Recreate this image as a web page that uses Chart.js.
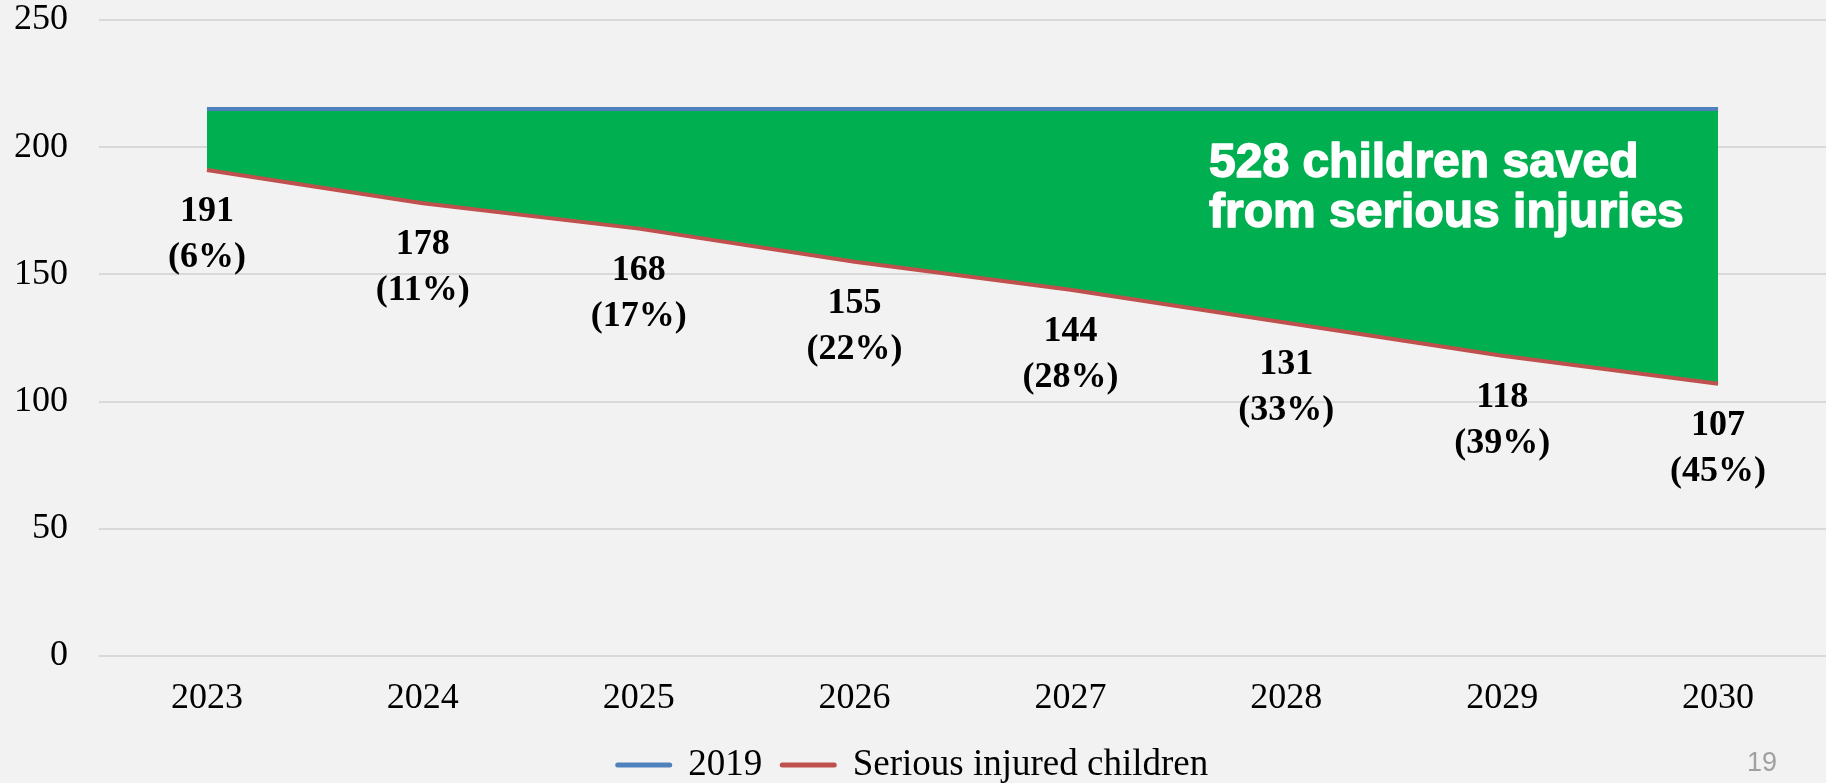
<!DOCTYPE html>
<html>
<head>
<meta charset="utf-8">
<script src="https://cdn.jsdelivr.net/npm/chart.js@4.4.1/dist/chart.umd.min.js"></script>
<style>
    html, body { margin: 0; padding: 0; background: #F2F2F2; }
    #wrap { width: 1826px; height: 783px; position: relative; }
</style>
</head>
<body>
<div id="wrap"><canvas id="chart"></canvas></div>
<script>
// chart data
const years = ['2023', '2024', '2025', '2026', '2027', '2028', '2029', '2030'];
const level2019 = [215, 215, 215, 215, 215, 215, 215, 215];
const injured = [191, 178, 168, 155, 144, 131, 118, 107];
const reduction = [6, 11, 17, 22, 28, 33, 39, 45];
const seriesNames = ['2019', 'Serious injured children'];
const noteLines = ['528 children saved', 'from serious injuries'];
const pageNumber = '19';

const BLUE = '#4F81BD';
const RED = '#C0504D';
const GREEN = '#00B050';

// value + percentage under every red point, plus the note text
const labelsPlugin = {
    id: 'labels',
    afterDatasetsDraw(chart) {
        const ctx = chart.ctx;
        const meta = chart.getDatasetMeta(1);
        ctx.save();
        ctx.fillStyle = '#000';
        ctx.font = 'bold 36px "Liberation Serif"';
        ctx.textAlign = 'center';
        ctx.textBaseline = 'middle';
        meta.data.forEach((pt, i) => {
            ctx.fillText(String(injured[i]), pt.x, pt.y + 42);
            ctx.fillText('(' + reduction[i] + '%)', pt.x, pt.y + 88);
        });

        ctx.fillStyle = '#FFFFFF';
        ctx.strokeStyle = '#FFFFFF';
        ctx.lineWidth = 1.5;
        ctx.lineJoin = 'round';
        ctx.font = 'bold 48px "Liberation Sans"';
        ctx.textAlign = 'left';
        ctx.textBaseline = 'alphabetic';
        noteLines.forEach((t, i) => {
            ctx.fillText(t, 1209, 177 + i * 50);
            ctx.strokeText(t, 1209, 177 + i * 50);
        });

        ctx.fillStyle = '#A0A0A0';
        ctx.font = '27px "Liberation Sans"';
        ctx.textAlign = 'center';
        ctx.fillText(pageNumber, 1762, 771);
        ctx.restore();
    }
};

new Chart(document.getElementById('chart'), {
    type: 'line',
    data: {
        labels: years,
        datasets: [
            {
                label: seriesNames[0],
                data: level2019,
                borderColor: BLUE,
                backgroundColor: GREEN,
                borderWidth: 4,
                pointRadius: 0,
                tension: 0,
                fill: '+1'
            },
            {
                label: seriesNames[1],
                data: injured,
                borderColor: RED,
                backgroundColor: RED,
                borderWidth: 4,
                pointRadius: 0,
                tension: 0,
                fill: false
            }
        ]
    },
    options: {
        responsive: true,
        maintainAspectRatio: false,
        animation: false,
        layout: { padding: 0 },
        scales: {
            x: {
                offset: true,
                grid: { display: false, drawTicks: false },
                border: { display: false },
                ticks: {
                    color: '#000',
                    padding: 21,
                    font: { family: '"Liberation Serif"', size: 36, lineHeight: 1.2 }
                },
                afterFit(scale) {
                    scale.height = 70.5;
                }
            },
            y: {
                min: 0,
                max: 250,
                grid: { color: '#D9D9D9', lineWidth: 2, drawTicks: false },
                border: { display: false },
                ticks: {
                    stepSize: 50,
                    color: '#000',
                    padding: 31,
                    font: { family: '"Liberation Serif"', size: 36, lineHeight: 1.1 }
                },
                afterFit(scale) {
                    scale.width = 99;
                    scale.paddingTop = 20;
                    scale.paddingBottom = 0;
                }
            }
        },
        plugins: {
            tooltip: { enabled: false },
            filler: { drawTime: 'beforeDatasetsDraw' },
            legend: {
                position: 'bottom',
                maxHeight: 56.5,
                labels: {
                    usePointStyle: true,
                    pointStyleWidth: 52,
                    padding: 20,
                    color: '#000',
                    font: { family: '"Liberation Serif"', size: 37 },
                    generateLabels(chart) {
                        return chart.data.datasets.map((ds, i) => ({
                            text: ds.label,
                            datasetIndex: i,
                            pointStyle: 'line',
                            strokeStyle: ds.borderColor,
                            fillStyle: ds.borderColor,
                            lineWidth: 5,
                            lineCap: 'round',
                            fontColor: '#000'
                        }));
                    }
                }
            }
        }
    },
    plugins: [labelsPlugin]
});
</script>
</body>
</html>
